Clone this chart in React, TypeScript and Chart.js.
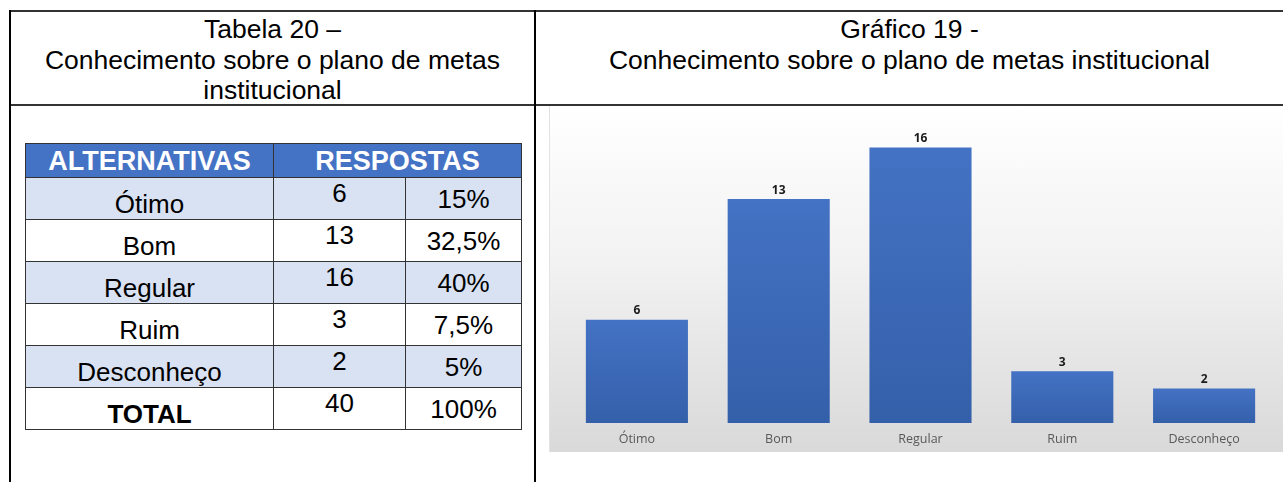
import React, { useEffect, useRef } from "react";
import { Chart, registerables } from "chart.js";

Chart.register(...registerables);

const categories: string[] = ["Ótimo", "Bom", "Regular", "Ruim", "Desconheço"];
const respostas: number[] = [6, 13, 16, 3, 2];
const percentuais: string[] = ["15%", "32,5%", "40%", "7,5%", "5%"];
const totalLabel = "TOTAL";
const totalValue = 40;
const totalPercent = "100%";
const tableTitle: string[] = ["Tabela 20 –", "Conhecimento sobre o plano de metas", "institucional"];
const chartTitle: string[] = ["Gráfico 19 -", "Conhecimento sobre o plano de metas institucional"];
const yMax = 18;

const FONT = "'Liberation Sans', Arial, sans-serif";
const CHART_FONT = "'Open Sans', 'Noto Sans', sans-serif";

const valueLabels = {
  id: "valueLabels",
  afterDatasetsDraw(chart: any) {
    const ctx = chart.ctx;
    const meta = chart.getDatasetMeta(0);
    ctx.save();
    ctx.font = `bold 12px ${CHART_FONT}`;
    ctx.fillStyle = "#1a1a1a";
    ctx.textAlign = "center";
    ctx.textBaseline = "bottom";
    meta.data.forEach((bar: any, i: number) => {
      ctx.fillText(String(chart.data.datasets[0].data[i]), bar.x, bar.y - 3);
    });
    ctx.restore();
  },
};

function BarChart() {
  const ref = useRef<HTMLCanvasElement | null>(null);
  useEffect(() => {
    if (!ref.current) return;
    const chart = new Chart(ref.current, {
      type: "bar",
      data: {
        labels: categories,
        datasets: [
          {
            data: respostas,
            backgroundColor: (context: any) => {
              const c = context.chart;
              const y = c.scales && c.scales.y;
              if (!y || context.raw === undefined) return "#4472C4";
              const top = y.getPixelForValue(context.raw);
              const bottom = y.getPixelForValue(0);
              if (!isFinite(top) || !isFinite(bottom) || top === bottom) return "#4472C4";
              const g = c.ctx.createLinearGradient(0, top, 0, bottom);
              g.addColorStop(0, "#4472C4");
              g.addColorStop(1, "#3460AA");
              return g;
            },
            borderWidth: 0,
            categoryPercentage: 1,
            barPercentage: 0.72,
          },
        ],
      },
      options: {
        animation: false,
        responsive: true,
        maintainAspectRatio: false,
        layout: { padding: { left: 16, right: 8, top: 7, bottom: -4 } },
        plugins: {
          legend: { display: false },
          tooltip: { enabled: false },
          title: { display: false },
        },
        scales: {
          x: {
            grid: { display: false, drawTicks: false },
            border: { display: false },
            ticks: {
              color: "#595959",
              font: { family: CHART_FONT, size: 12.5 },
              padding: 9,
            },
          },
          y: {
            display: false,
            min: 0,
            max: yMax,
          },
        },
      },
      plugins: [valueLabels],
    });
    return () => chart.destroy();
  }, []);
  return <canvas ref={ref} />;
}

const line = "#333";

export default function App() {
  const colW = [248, 132, 116];
  const cellBase: React.CSSProperties = {
    border: `1.5px solid ${line}`,
    padding: 0,
    fontFamily: FONT,
    fontSize: 26,
    textAlign: "center",
    color: "#000",
    lineHeight: "30px",
  };
  return (
    <div style={{ fontFamily: FONT }}>
      {/* frame lines */}
      <div style={{ position: "absolute", left: 10, top: 10, width: 1273, height: 2, background: line }} />
      <div style={{ position: "absolute", left: 10, top: 104, width: 1273, height: 1.5, background: line }} />
      <div style={{ position: "absolute", left: 9, top: 10, width: 1.5, height: 472, background: "#000" }} />
      <div style={{ position: "absolute", left: 534, top: 10, width: 1.5, height: 472, background: "#000" }} />

      {/* titles */}
      <div style={{ position: "absolute", left: 10, top: 14, width: 525, textAlign: "center", fontSize: 26.5, lineHeight: "30.5px", color: "#000" }}>
        {tableTitle.map((t, i) => (
          <div key={i}>{t}</div>
        ))}
      </div>
      <div style={{ position: "absolute", left: 536, top: 14, width: 747, textAlign: "center", fontSize: 26.5, lineHeight: "30.5px", color: "#000" }}>
        {chartTitle.map((t, i) => (
          <div key={i}>{t}</div>
        ))}
      </div>

      {/* table */}
      <table
        style={{
          position: "absolute",
          left: 25,
          top: 143,
          borderCollapse: "collapse",
          tableLayout: "fixed",
          width: 496,
        }}
      >
        <colgroup>
          {colW.map((w, i) => (
            <col key={i} style={{ width: w }} />
          ))}
        </colgroup>
        <tbody>
          <tr style={{ height: 34, background: "#4472C4" }}>
            <td style={{ ...cellBase, fontSize: 27, color: "#fff", fontWeight: "bold", verticalAlign: "middle" }}>ALTERNATIVAS</td>
            <td colSpan={2} style={{ ...cellBase, fontSize: 27, color: "#fff", fontWeight: "bold", verticalAlign: "middle" }}>RESPOSTAS</td>
          </tr>
          {categories.map((c, i) => (
            <tr key={c} style={{ height: 42, background: i % 2 === 0 ? "#D9E2F3" : "#fff" }}>
              <td style={{ ...cellBase, verticalAlign: "bottom" }}>{c}</td>
              <td style={{ ...cellBase, verticalAlign: "top" }}>{respostas[i]}</td>
              <td style={{ ...cellBase, verticalAlign: "middle" }}>{percentuais[i]}</td>
            </tr>
          ))}
          <tr style={{ height: 42, background: "#fff" }}>
            <td style={{ ...cellBase, verticalAlign: "bottom", fontWeight: "bold" }}>{totalLabel}</td>
            <td style={{ ...cellBase, verticalAlign: "top" }}>{totalValue}</td>
            <td style={{ ...cellBase, verticalAlign: "middle" }}>{totalPercent}</td>
          </tr>
        </tbody>
      </table>

      {/* chart */}
      <div
        style={{
          position: "absolute",
          left: 549,
          top: 106,
          width: 734,
          height: 346,
          background: "linear-gradient(to bottom, #ffffff 0%, #f2f2f2 45%, #d9d9d9 100%)",
          borderLeft: "1.5px solid #e3e3e3",
          boxSizing: "border-box",
        }}
      >
        <BarChart />
      </div>
    </div>
  );
}
